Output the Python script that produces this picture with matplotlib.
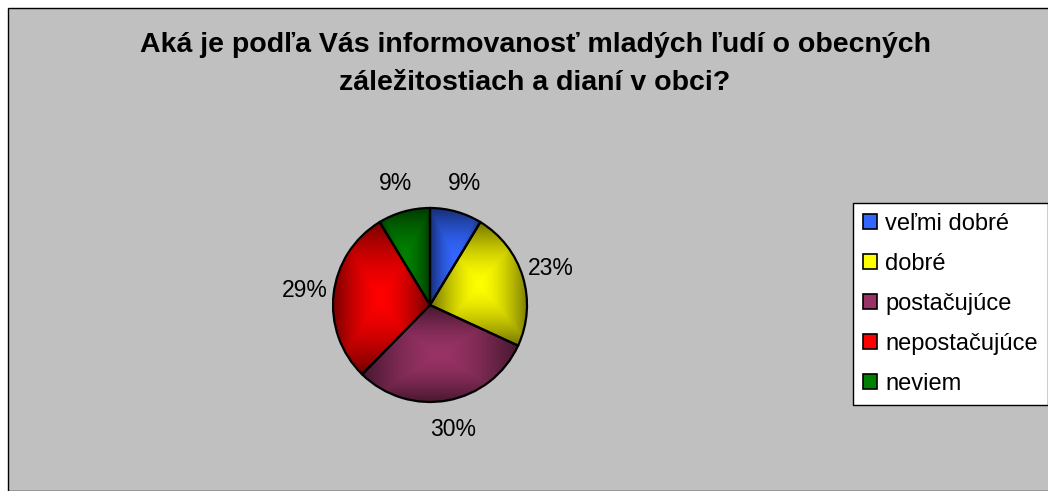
import numpy as np
import matplotlib.pyplot as plt
from matplotlib.patches import Rectangle, Patch
from matplotlib.colors import to_rgb

# odpovede (počty respondentov), percentá sa dopočítajú
categories = ["veľmi dobré", "dobré", "postačujúce", "nepostačujúce", "neviem"]
counts = [6, 16, 21, 20, 6]
colors = ["#3366FF", "#FFFF00", "#993366", "#FF0000", "#008000"]

title = "Aká je podľa Vás informovanosť mladých ľudí o obecných\nzáležitostiach a dianí v obci?"

W, H = 1048, 491
fig = plt.figure(figsize=(W / 100, H / 100), dpi=100)
fig.patch.set_facecolor("white")

# sivé pozadie grafu s čiernym okrajom
bg = Rectangle((8 / W, 0), 1.0, 1 - 8 / H, transform=fig.transFigure,
               facecolor="#C0C0C0", edgecolor="black", linewidth=1, zorder=-10)
fig.patches.append(bg)

fig.text(535 / W, 1 - 64 / H, title, ha="center", va="center",
         fontsize=20.5, fontweight="bold", family="Liberation Sans",
         linespacing=1.6)

r = 97
cx, cy = 430, 305
ax = fig.add_axes([(cx - r) / W, 1 - (cy + r) / H, 2 * r / W, 2 * r / H])
ax.set_facecolor("none")

wedges, texts, autotexts = ax.pie(
    counts, colors=colors, startangle=90, counterclock=False,
    autopct="%.0f%%", pctdistance=1.3,
    wedgeprops=dict(edgecolor="black", linewidth=1.6),
    textprops=dict(fontsize=16.5, family="Liberation Sans"),
)

# tieňovanie výsekov (prechod od stredu, ako v Exceli)
for w, c in zip(wedges, colors):
    verts = w.get_path().vertices
    x0, y0 = verts.min(axis=0)
    x1, y1 = verts.max(axis=0)
    gx, gy = np.meshgrid(np.linspace(-1, 1, 200), np.linspace(-1, 1, 200))
    d = np.maximum(np.abs(gx), np.abs(gy))
    shade = 1 - 0.55 * d ** 1.6
    img = np.array(to_rgb(c))[None, None, :] * shade[:, :, None]
    im = ax.imshow(img, extent=(x0, x1, y0, y1), origin="lower",
                   interpolation="bilinear", zorder=1)
    im.set_clip_path(w)
    w.set_facecolor("none")
    w.set_zorder(2)

ax.set_xlim(-1, 1)
ax.set_ylim(-1, 1)
ax.set_aspect("equal")
ax.axis("off")

handles = [Patch(facecolor=c, edgecolor="black", linewidth=1.2) for c in colors]
leg = fig.legend(handles, categories, loc="upper left",
                 bbox_to_anchor=(853 / W, 1 - 203 / H),
                 prop=dict(family="Liberation Sans", size=17),
                 frameon=True, fancybox=False, edgecolor="black",
                 facecolor="white", framealpha=1,
                 handlelength=0.6, handleheight=0.6, handletextpad=0.35,
                 labelspacing=0.76, borderpad=0.42, borderaxespad=0)
leg.get_frame().set_linewidth(1)

fig.savefig("out.png", dpi=100, facecolor=fig.get_facecolor())
